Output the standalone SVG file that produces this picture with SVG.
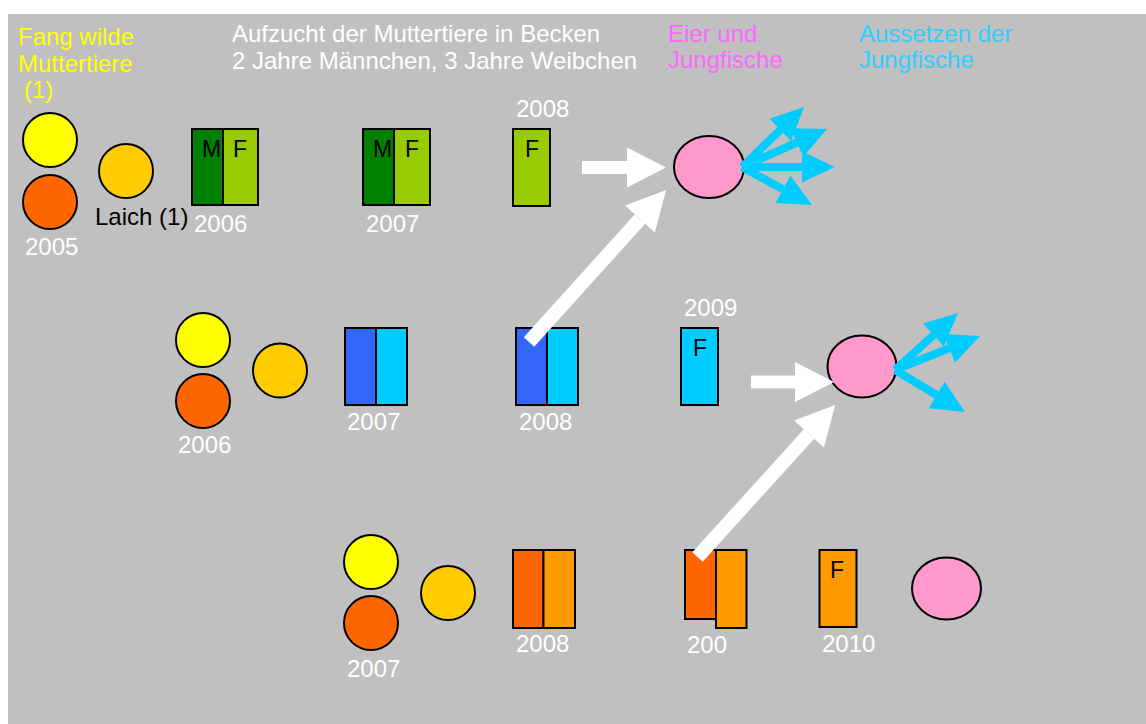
<svg xmlns="http://www.w3.org/2000/svg" width="1146" height="724" viewBox="0 0 1146 724">
<style>
text{font-family:"Liberation Sans",Arial,sans-serif;font-size:24px}
.w{fill:#FFFFFF}.y{fill:#FFFF00}.k{fill:#000000}.p{fill:#FF66FF}.c{fill:#33CCFF}
.mf{font-size:23px;fill:#000}
.o{stroke:#000;stroke-width:2}
.wa{stroke:#FFFFFF;fill:none}
.ba{stroke:#00CCFF;stroke-width:8;fill:none}
</style>
<defs>
<marker id="wh" markerUnits="userSpaceOnUse" markerWidth="40" markerHeight="40" refX="0" refY="20" orient="auto" overflow="visible"><path d="M0,0 L39,20 L0,40 Z" fill="#FFFFFF"/></marker>
<marker id="bh" markerUnits="userSpaceOnUse" markerWidth="34" markerHeight="32" refX="0" refY="15.5" orient="auto" overflow="visible"><path d="M0,0 L33,15.5 L0,31 Z" fill="#00CCFF"/></marker>
</defs>
<rect x="0" y="0" width="1146" height="724" fill="#FFFFFF"/>
<rect x="8" y="14" width="1138" height="710" fill="#C0C0C0"/>

<g id="headers">
<text class="y" x="18" y="45">Fang wilde</text>
<text class="y" x="18" y="72">Muttertiere</text>
<text class="y" x="24" y="98">(1)</text>
<text class="w" x="232" y="42">Aufzucht der Muttertiere in Becken</text>
<text class="w" x="232" y="69">2 Jahre Männchen, 3 Jahre Weibchen</text>
<text class="p" x="668" y="42">Eier und</text>
<text class="p" x="668" y="68">Jungfische</text>
<text class="c" x="859" y="42">Aussetzen der</text>
<text class="c" x="859" y="68">Jungfische</text>
</g>

<!-- Row 1 -->
<g id="r1-wild">
<circle class="o" cx="50" cy="140" r="27" fill="#FFFF00"/>
<circle class="o" cx="50" cy="202" r="27" fill="#FF6600"/>
<text class="w" x="25" y="255">2005</text>
</g>
<g id="r1-laich">
<circle class="o" cx="126" cy="171" r="27" fill="#FFCC00"/>
<text class="k" x="95" y="225">Laich (1)</text>
</g>
<g id="r1-2006">
<rect class="o" x="192" y="129" width="31" height="76" fill="#008000"/>
<rect class="o" x="223" y="129" width="35" height="76" fill="#99CC00"/>
<text class="mf" x="202" y="157">M</text>
<text class="mf" x="233" y="157">F</text>
<text class="w" x="194" y="232">2006</text>
</g>
<g id="r1-2007">
<rect class="o" x="363" y="129" width="31" height="76" fill="#008000"/>
<rect class="o" x="394" y="129" width="36" height="76" fill="#99CC00"/>
<text class="mf" x="373" y="157">M</text>
<text class="mf" x="405" y="157">F</text>
<text class="w" x="366" y="232">2007</text>
</g>
<g id="r1-2008">
<rect class="o" x="513" y="129" width="37" height="77" fill="#99CC00"/>
<text class="mf" x="525" y="157">F</text>
<text class="w" x="516" y="117">2008</text>
</g>
<g id="r1-eggs">
<ellipse class="o" cx="709" cy="167" rx="35" ry="31" fill="#FF99CC"/>
</g>

<!-- Row 2 -->
<g id="r2-wild">
<circle class="o" cx="203" cy="340" r="27" fill="#FFFF00"/>
<circle class="o" cx="203" cy="401" r="27" fill="#FF6600"/>
<text class="w" x="178" y="453">2006</text>
</g>
<g id="r2-laich">
<circle class="o" cx="280" cy="370.5" r="27" fill="#FFCC00"/>
</g>
<g id="r2-2007">
<rect class="o" x="345" y="328" width="31" height="77" fill="#3366FF"/>
<rect class="o" x="376" y="328" width="31" height="77" fill="#00CCFF"/>
<text class="w" x="347" y="430">2007</text>
</g>
<g id="r2-2008">
<rect class="o" x="516" y="328" width="31" height="77" fill="#3366FF"/>
<rect class="o" x="547" y="328" width="31" height="77" fill="#00CCFF"/>
<text class="w" x="519" y="430">2008</text>
</g>
<g id="r2-2009">
<rect class="o" x="681" y="328" width="37" height="77" fill="#00CCFF"/>
<text class="mf" x="693" y="356">F</text>
<text class="w" x="684" y="316">2009</text>
</g>
<g id="r2-eggs">
<ellipse class="o" cx="862" cy="366.5" rx="34.5" ry="31" fill="#FF99CC"/>
</g>

<!-- Row 3 -->
<g id="r3-wild">
<circle class="o" cx="371" cy="562" r="27" fill="#FFFF00"/>
<circle class="o" cx="371" cy="623" r="27" fill="#FF6600"/>
<text class="w" x="347" y="677">2007</text>
</g>
<g id="r3-laich">
<circle class="o" cx="448" cy="593" r="27" fill="#FFCC00"/>
</g>
<g id="r3-2008">
<rect class="o" x="513" y="550" width="30.5" height="78" fill="#FF6600"/>
<rect class="o" x="543.5" y="550" width="31.5" height="78" fill="#FF9900"/>
<text class="w" x="516" y="652">2008</text>
</g>
<g id="r3-2009">
<rect class="o" x="685" y="550" width="31" height="69" fill="#FF6600"/>
<rect class="o" x="716" y="550" width="30.5" height="78" fill="#FF9900"/>
<text class="w" x="687" y="653">200</text>
</g>
<g id="r3-2010">
<rect class="o" x="819.5" y="550" width="37" height="77" fill="#FF9900"/>
<text class="mf" x="830" y="578">F</text>
<text class="w" x="822" y="652">2010</text>
</g>
<g id="r3-eggs">
<ellipse class="o" cx="946.5" cy="588.5" rx="34.5" ry="31" fill="#FF99CC"/>
</g>

<g id="connectors">
<line class="wa" x1="582" y1="167.5" x2="627" y2="167.5" stroke-width="13" marker-end="url(#wh)"/>
<line class="wa" x1="529" y1="342" x2="640" y2="219" stroke-width="14" marker-end="url(#wh)"/>
<line class="wa" x1="751" y1="382" x2="795" y2="382" stroke-width="13" marker-end="url(#wh)"/>
<line class="wa" x1="697.5" y1="557" x2="809" y2="434" stroke-width="14" marker-end="url(#wh)"/>
<line class="ba" x1="742" y1="167" x2="780.3" y2="129.9" marker-end="url(#bh)"/>
<line class="ba" x1="742" y1="167" x2="796.9" y2="142.5" marker-end="url(#bh)"/>
<line class="ba" x1="742" y1="167" x2="802" y2="167" marker-end="url(#bh)"/>
<line class="ba" x1="742" y1="167" x2="783" y2="189.3" marker-end="url(#bh)"/>
<line class="ba" x1="895" y1="370" x2="933.5" y2="335.1" marker-end="url(#bh)"/>
<line class="ba" x1="895" y1="370" x2="949.3" y2="348.3" marker-end="url(#bh)"/>
<line class="ba" x1="895" y1="370" x2="936.7" y2="395" marker-end="url(#bh)"/>
</g>
</svg>
